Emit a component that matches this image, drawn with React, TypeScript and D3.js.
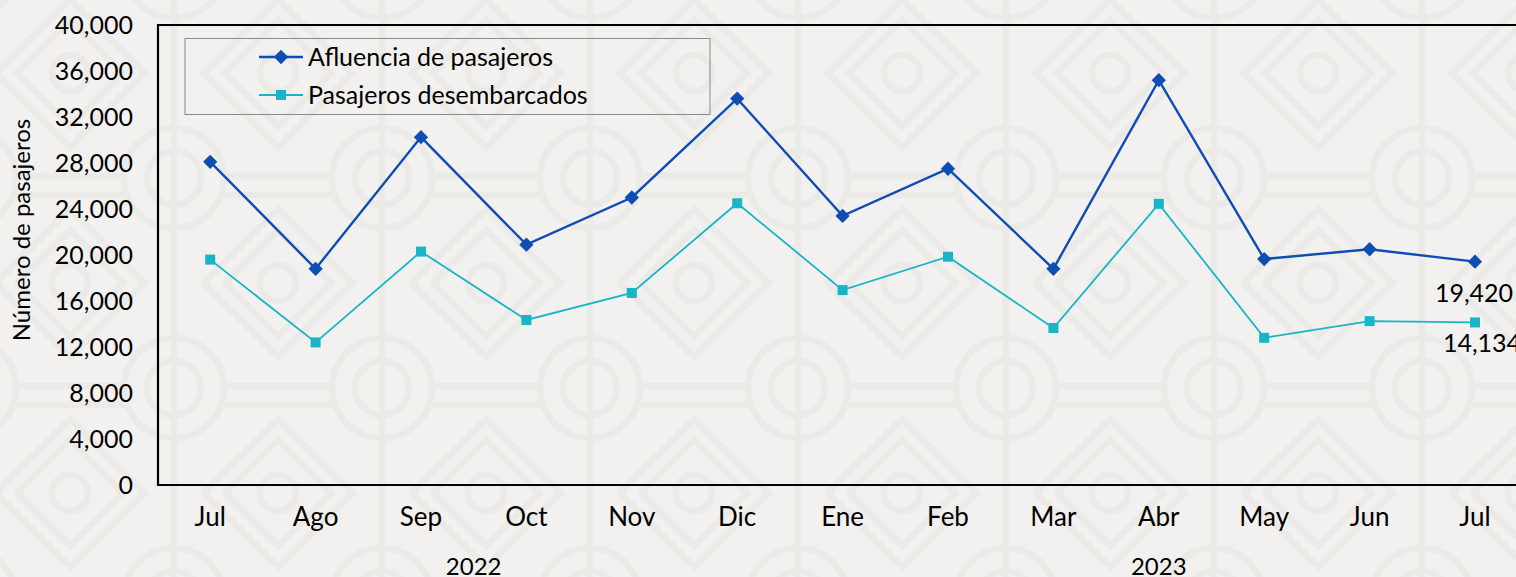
import React, { useEffect, useRef } from 'react'
import * as d3 from 'd3'

const months = ['Jul', 'Ago', 'Sep', 'Oct', 'Nov', 'Dic', 'Ene', 'Feb', 'Mar', 'Abr', 'May', 'Jun', 'Jul']
const years = [
  { label: '2022', from: 0, to: 5 },
  { label: '2023', from: 6, to: 12 },
]
const afluencia = [28100, 18800, 30250, 20900, 25000, 33600, 23400, 27500, 18800, 35200, 19650, 20500, 19420]
const desembarcados = [19600, 12400, 20300, 14350, 16700, 24500, 16950, 19850, 13650, 24450, 12800, 14250, 14134]
const yTicks = [0, 4000, 8000, 12000, 16000, 20000, 24000, 28000, 32000, 36000, 40000]

const W = 1516
const H = 577
const FONT = 'Lato, "DejaVu Sans", sans-serif'
const BLUE = '#0D4DB4'
const CYAN = '#17B5C6'

export default function App() {
  const ref = useRef<SVGSVGElement>(null)

  useEffect(() => {
    const svg = d3.select(ref.current)
    svg.selectAll('*').remove()

    // background, a faint geometric tile
    const defs = svg.append('defs')
    const pat = defs
      .append('pattern')
      .attr('id', 'bg')
      .attr('patternUnits', 'userSpaceOnUse')
      .attr('width', 208)
      .attr('height', 210)
      .attr('x', -34)
      .attr('y', -32)
    pat.append('rect').attr('width', 208).attr('height', 210).attr('fill', '#F2F1EF')
    const pg = pat.append('g').attr('fill', 'none').attr('stroke', '#EBEAE6').attr('stroke-width', 6.5)
    pg.append('circle').attr('cx', 104).attr('cy', 105).attr('r', 18)
    pg.append('path').attr('d', 'M104,31 L178,105 L104,179 L30,105 Z')
    pg.append('path').attr('d', 'M104,52 L157,105 L104,158 L51,105 Z')
    ;[
      [0, 0],
      [208, 0],
      [0, 210],
      [208, 210],
    ].forEach(([a, b]) => {
      pg.append('circle').attr('cx', a).attr('cy', b).attr('r', 50)
      pg.append('circle').attr('cx', a).attr('cy', b).attr('r', 27)
    })
    pg.append('path').attr('d', 'M0,0 V210 M208,0 V210 M50,-2 H158 M50,17 H158 M50,208 H158 M50,227 H158')

    svg.append('rect').attr('width', W).attr('height', H).attr('fill', 'url(#bg)')

    const x = d3
      .scaleBand<number>()
      .domain(months.map((_, i) => i))
      .range([157.5, 157.5 + 105.4 * months.length])
    const y = d3.scaleLinear().domain([0, 40000]).range([485, 25])
    const cx = (i: number) => (x(i) as number) + x.bandwidth() / 2

    // frame
    svg
      .append('path')
      .attr('d', `M${W + 10},${y(40000)} H158 V${y(0)} H${W + 10}`)
      .attr('fill', 'none')
      .attr('stroke', '#000')
      .attr('stroke-width', 2.2)

    // y ticks
    svg
      .append('g')
      .selectAll('text')
      .data(yTicks)
      .enter()
      .append('text')
      .attr('x', 133)
      .attr('y', d => y(d))
      .attr('dy', '0.36em')
      .attr('text-anchor', 'end')
      .attr('font-family', FONT)
      .attr('font-size', 25)
      .attr('fill', '#000')
      .text(d => d3.format(',')(d))

    svg
      .append('text')
      .attr('transform', 'translate(30,230) rotate(-90)')
      .attr('text-anchor', 'middle')
      .attr('font-family', FONT)
      .attr('font-size', 24)
      .attr('fill', '#000')
      .text('Número de pasajeros')

    // x labels
    svg
      .append('g')
      .selectAll('text')
      .data(months)
      .enter()
      .append('text')
      .attr('x', (_, i) => cx(i))
      .attr('y', 526)
      .attr('text-anchor', 'middle')
      .attr('font-family', FONT)
      .attr('font-size', 26)
      .attr('fill', '#000')
      .text(d => d)

    svg
      .append('g')
      .selectAll('text')
      .data(years)
      .enter()
      .append('text')
      .attr('x', d => (cx(d.from) + cx(d.to)) / 2)
      .attr('y', 575)
      .attr('text-anchor', 'middle')
      .attr('font-family', FONT)
      .attr('font-size', 24)
      .attr('fill', '#000')
      .text(d => d.label)

    const line = d3
      .line<number>()
      .x((_, i) => cx(i))
      .y(d => y(d))

    const diamond = d3.symbol().type(d3.symbolDiamond2).size(130)
    const square = d3.symbol().type(d3.symbolSquare).size(100)

    svg
      .append('path')
      .attr('d', line(desembarcados))
      .attr('fill', 'none')
      .attr('stroke', CYAN)
      .attr('stroke-width', 1.8)
    svg
      .append('g')
      .selectAll('path')
      .data(desembarcados)
      .enter()
      .append('path')
      .attr('d', square())
      .attr('transform', (d, i) => `translate(${cx(i)},${y(d)})`)
      .attr('fill', CYAN)

    svg
      .append('path')
      .attr('d', line(afluencia))
      .attr('fill', 'none')
      .attr('stroke', BLUE)
      .attr('stroke-width', 2.4)
    svg
      .append('g')
      .selectAll('path')
      .data(afluencia)
      .enter()
      .append('path')
      .attr('d', diamond())
      .attr('transform', (d, i) => `translate(${cx(i)},${y(d)})`)
      .attr('fill', BLUE)

    // value labels on the last month
    const last = months.length - 1
    svg
      .append('text')
      .attr('x', cx(last) - 1)
      .attr('y', y(afluencia[last]) + 40)
      .attr('text-anchor', 'middle')
      .attr('font-family', FONT)
      .attr('font-size', 25)
      .attr('fill', '#000')
      .text(d3.format(',')(afluencia[last]))
    svg
      .append('text')
      .attr('x', cx(last) + 7)
      .attr('y', y(desembarcados[last]) + 30)
      .attr('text-anchor', 'middle')
      .attr('font-family', FONT)
      .attr('font-size', 25)
      .attr('fill', '#000')
      .text(d3.format(',')(desembarcados[last]))

    // legend
    const lg = svg.append('g')
    lg.append('rect')
      .attr('x', 185)
      .attr('y', 38.5)
      .attr('width', 525)
      .attr('height', 76)
      .attr('fill', 'none')
      .attr('stroke', '#8a8a8a')
      .attr('stroke-width', 1)
    const items = [
      { name: 'Afluencia de pasajeros', color: BLUE, sym: diamond, w: 2.4, ly: 57 },
      { name: 'Pasajeros desembarcados', color: CYAN, sym: square, w: 1.8, ly: 95 },
    ]
    items.forEach(it => {
      lg.append('line')
        .attr('x1', 259)
        .attr('x2', 303)
        .attr('y1', it.ly)
        .attr('y2', it.ly)
        .attr('stroke', it.color)
        .attr('stroke-width', it.w)
      lg.append('path')
        .attr('d', it.sym())
        .attr('transform', `translate(281,${it.ly})`)
        .attr('fill', it.color)
      lg.append('text')
        .attr('x', 308)
        .attr('y', it.ly)
        .attr('dy', '0.35em')
        .attr('font-family', FONT)
        .attr('font-size', 25)
        .attr('fill', '#000')
        .text(it.name)
    })
  }, [])

  return (
    <svg
      ref={ref}
      width={W}
      height={H}
      style={{ position: 'absolute', left: 0, top: 0, display: 'block' }}
    />
  )
}
